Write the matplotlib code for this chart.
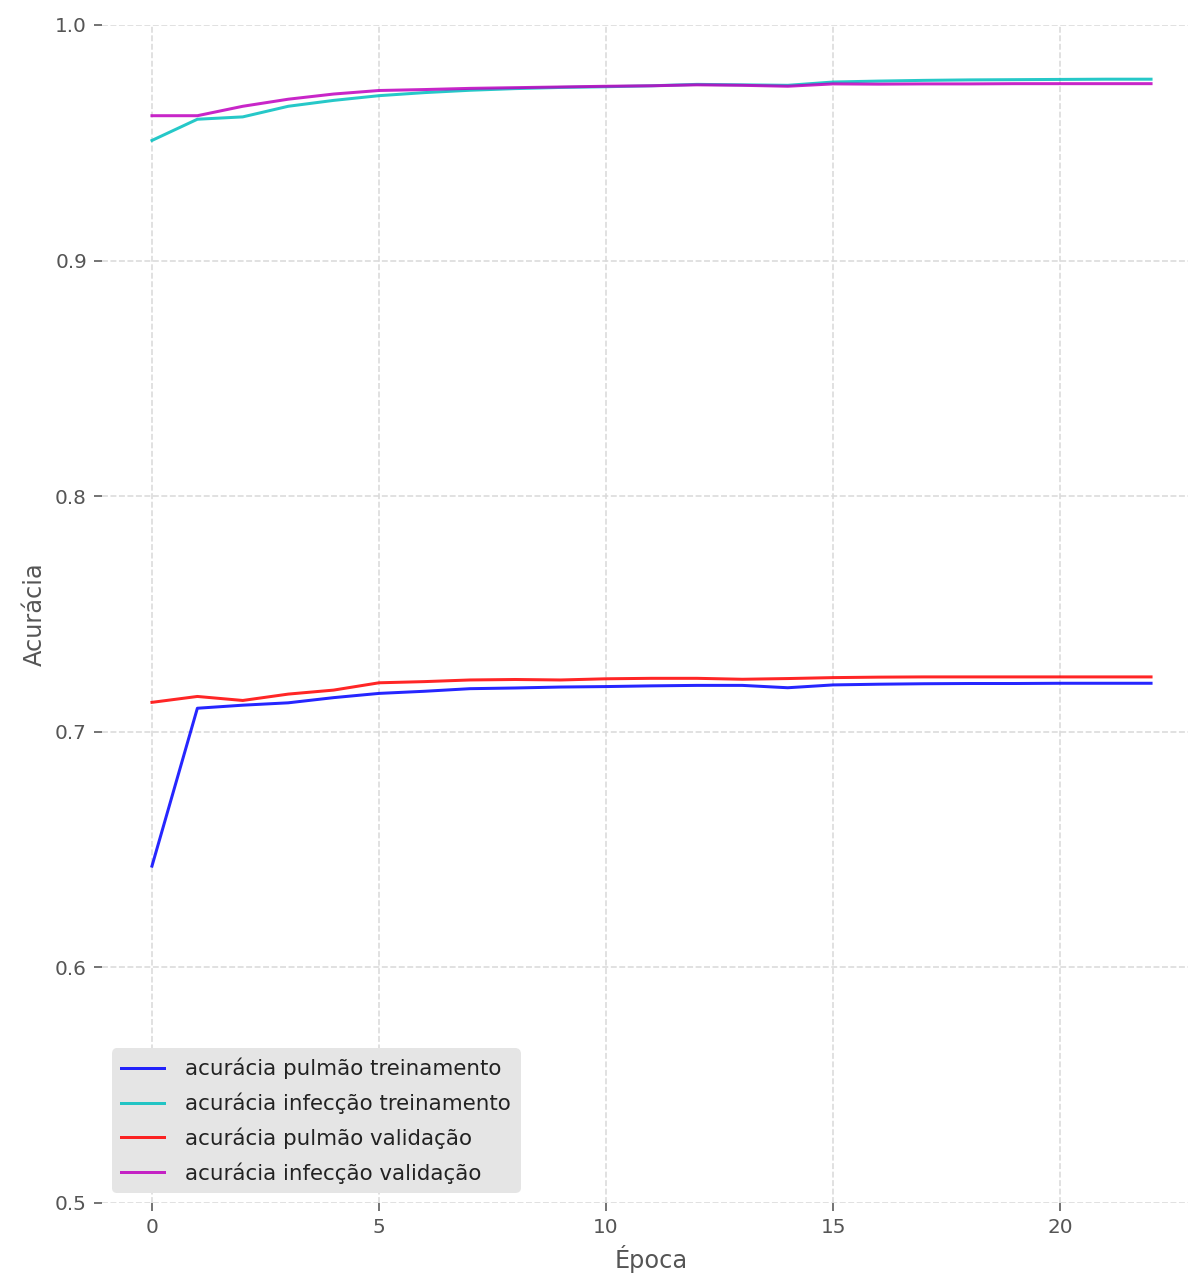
"""plot.py"""

import matplotlib
matplotlib.use("Agg")
import matplotlib.pyplot as plt
import numpy as np

# dados
epocas = np.arange(23)

acc_pulmao_trein = [0.643, 0.710, 0.7113, 0.7123, 0.7145, 0.7163, 0.7172, 0.7183,
                    0.7186, 0.7190, 0.7192, 0.7195, 0.7197, 0.7197, 0.7187, 0.7199,
                    0.7202, 0.7204, 0.7205, 0.7205, 0.7206, 0.7206, 0.7206]
acc_infeccao_trein = [0.951, 0.960, 0.961, 0.9655, 0.968, 0.970, 0.9713, 0.9723,
                      0.9730, 0.9735, 0.9738, 0.9742, 0.9748, 0.9746, 0.9744, 0.9758,
                      0.9762, 0.9765, 0.9767, 0.9768, 0.9769, 0.9770, 0.9770]
acc_pulmao_val = [0.7125, 0.7150, 0.7133, 0.7160, 0.7177, 0.7208, 0.7213, 0.7220,
                  0.7222, 0.7220, 0.7225, 0.7227, 0.7227, 0.7223, 0.7226, 0.7230,
                  0.7232, 0.7233, 0.7233, 0.7233, 0.7233, 0.7233, 0.7233]
acc_infeccao_val = [0.9615, 0.9615, 0.9655, 0.9685, 0.9707, 0.9722, 0.9726, 0.9731,
                    0.9734, 0.9737, 0.9740, 0.9742, 0.9746, 0.9744, 0.9740, 0.9750,
                    0.9749, 0.9750, 0.9750, 0.9751, 0.9751, 0.9751, 0.9751]

rotulos = ["acurácia pulmão treinamento", "acurácia infecção treinamento",
           "acurácia pulmão validação", "acurácia infecção validação"]

fig = plt.figure(figsize=(1188 / 144, 1284 / 144), dpi=144)
ax = fig.add_axes([102 / 1188, 1 - 1203 / 1284, 1099 / 1188, 1178 / 1284])
ax.set_facecolor("white")

ax.plot(epocas, acc_pulmao_trein, color="b", alpha=0.85, lw=1.5, label=rotulos[0])
ax.plot(epocas, acc_infeccao_trein, color="c", alpha=0.85, lw=1.5, label=rotulos[1])
ax.plot(epocas, acc_pulmao_val, color="r", alpha=0.85, lw=1.5, label=rotulos[2])
ax.plot(epocas, acc_infeccao_val, color="m", alpha=0.85, lw=1.5, label=rotulos[3])

ax.set_xlim(-1.1, 23.1)
ax.set_ylim(0.5, 1.0)
ax.set_xticks([0, 5, 10, 15, 20])
ax.set_yticks([0.5, 0.6, 0.7, 0.8, 0.9, 1.0])
ax.grid(True, ls="--", color="#dadada", lw=0.8)
for s in ax.spines.values():
    s.set_visible(False)
ax.tick_params(colors="#555555", labelsize=10, direction="out", length=4)

ax.set_xlabel("Época", fontsize=12, color="#555555")
ax.set_ylabel("Acurácia", fontsize=12, color="#555555")

leg = ax.legend(loc="lower left", fontsize=10.7, facecolor="#e5e5e5",
                edgecolor="#e5e5e5", framealpha=1.0, labelspacing=0.62,
                handletextpad=1.0)
for t in leg.get_texts():
    t.set_color("#222222")

fig.savefig("out.png", dpi=144)
